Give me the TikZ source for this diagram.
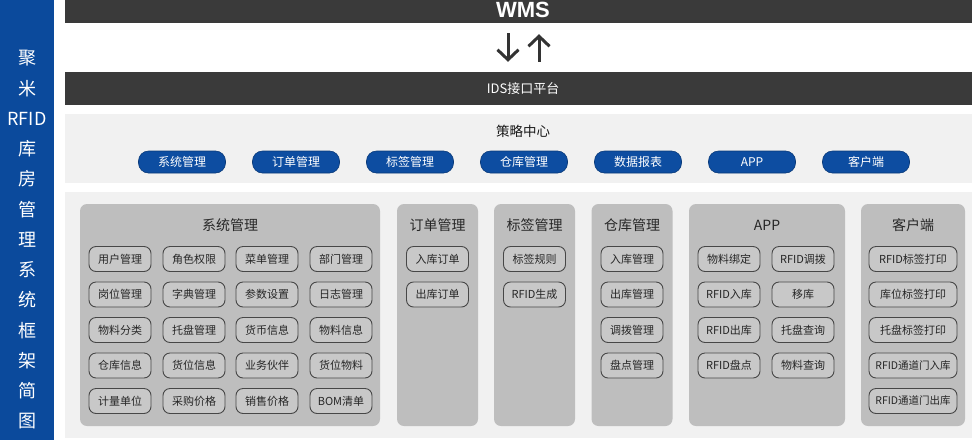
\documentclass[tikz,border=0pt]{standalone}
\usepackage{fontspec}
\setmainfont{Noto Sans CJK SC}
\newfontfamily\wmsfont{Liberation Sans}
\usetikzlibrary{arrows.meta}
\definecolor{sidebl}{HTML}{0B4A9C}
\definecolor{pillbl}{HTML}{0D4DA1}
\definecolor{darkbar}{HTML}{3A3A3A}
\definecolor{lightpanel}{HTML}{F1F1F1}
\definecolor{midpanel}{HTML}{BEBEBE}
\definecolor{itemfill}{HTML}{C8C8C8}
\definecolor{itemline}{HTML}{474747}
\definecolor{arrowc}{HTML}{333333}
\tikzset{
  bar/.style={fill=darkbar, draw=none, inner sep=0pt, minimum width=907pt},
  lpanel/.style={fill=lightpanel, draw=none, inner sep=0pt, minimum width=907pt},
  pill/.style={fill=pillbl, draw=pillbl!75!black, line width=0.6pt, rounded corners=10pt,
    minimum width=87pt, minimum height=22pt, inner sep=0pt, text=white,
    font=\fontsize{12}{12}\selectfont},
  panel/.style={fill=midpanel, draw=none, rounded corners=7pt, inner sep=0pt, minimum height=222pt},
  ptitle/.style={font=\fontsize{14}{14}\selectfont, text=black!85, inner sep=0pt},
  itembox/.style={fill=itemfill, draw=itemline, line width=0.9pt, rounded corners=7pt,
    minimum width=62pt, minimum height=25pt, inner sep=0pt,
    font=\fontsize{11}{11}\selectfont, text=black!85},
  sidech/.style={text=white, inner sep=0pt, font=\fontsize{18}{18}\selectfont},
  bigarrow/.style={draw=arrowc, line width=3pt, -{Straight Barb[length=10pt,width=21pt]}}
}
\begin{document}
\begin{tikzpicture}[x=1pt,y=-1pt]
\useasboundingbox (0,0) rectangle (972,440);
\fill[white] (0,0) rectangle (972,440);

% side bar
\node[fill=sidebl, minimum width=54pt, minimum height=440pt, inner sep=0pt] (side) at (27,220) {};
\foreach \c [count=\i from 0] in {聚,米,RFID,库,房,管,理,系,统,框,架,简,图}
  \node[sidech] (s\i) at (27,{58+30.25*\i}) {\c};

% WMS bar
\node[bar, minimum height=23pt] (wms) at (518.5,11.5) {};
\node[text=white, inner sep=0pt, anchor=base, font=\wmsfont\bfseries\fontsize{22}{22}\selectfont] (wmstxt) at (523,17) {WMS};

% IDS bar
\node[bar, minimum height=33pt] (ids) at (518.5,88.5) {};
\node[text=white, inner sep=0pt, font=\fontsize{13}{13}\selectfont] (idstxt) at (523,89) {IDS接口平台};

% arrows
\coordinate (dnx) at (508,0);
\coordinate (upx) at (539,0);
\draw[bigarrow, shorten <=10pt, shorten >=10pt] (wms.south -| dnx) -- (ids.north -| dnx);
\draw[bigarrow, shorten <=10pt, shorten >=11pt] (ids.north -| upx) -- (wms.south -| upx);

% strategy center
\node[lpanel, minimum height=69pt] (strat) at (518.5,148.5) {};
\node[inner sep=0pt, font=\fontsize{13.5}{13.5}\selectfont, text=black!90] (strattxt) at (523,131) {策略中心};
\node[pill] (b1) at (182,162) {系统管理};
\node[pill] (b2) at (296,162) {订单管理};
\node[pill] (b3) at (410,162) {标签管理};
\node[pill] (b4) at (524,162) {仓库管理};
\node[pill] (b5) at (638,162) {数据报表};
\node[pill] (b6) at (752,162) {APP};
\node[pill] (b7) at (866,162) {客户端};

% lower area
\node[lpanel, minimum height=246pt] (lower) at (518.5,315) {};

% system management
\node[panel, minimum width=300pt] (psys) at (230,315) {};
\node[ptitle] (tsys) at (230,225) {系统管理};
\node[itembox] (i11) at (120,259) {用户管理};
\node[itembox] (i12) at (194,259) {角色权限};
\node[itembox] (i13) at (267,259) {菜单管理};
\node[itembox] (i14) at (341,259) {部门管理};
\node[itembox] (i21) at (120,294.5) {岗位管理};
\node[itembox] (i22) at (194,294.5) {字典管理};
\node[itembox] (i23) at (267,294.5) {参数设置};
\node[itembox] (i24) at (341,294.5) {日志管理};
\node[itembox] (i31) at (120,330) {物料分类};
\node[itembox] (i32) at (194,330) {托盘管理};
\node[itembox] (i33) at (267,330) {货币信息};
\node[itembox] (i34) at (341,330) {物料信息};
\node[itembox] (i41) at (120,365.5) {仓库信息};
\node[itembox] (i42) at (194,365.5) {货位信息};
\node[itembox] (i43) at (267,365.5) {业务伙伴};
\node[itembox] (i44) at (341,365.5) {货位物料};
\node[itembox] (i51) at (120,401) {计量单位};
\node[itembox] (i52) at (194,401) {采购价格};
\node[itembox] (i53) at (267,401) {销售价格};
\node[itembox] (i54) at (341,401) {BOM清单};

% order management
\node[panel, minimum width=81pt] (pord) at (437.5,315) {};
\node[ptitle] (tord) at (437.5,225) {订单管理};
\node[itembox] (o1) at (437.5,259) {入库订单};
\node[itembox] (o2) at (437.5,294.5) {出库订单};

% tag management
\node[panel, minimum width=81pt] (ptag) at (534.5,315) {};
\node[ptitle] (ttag) at (534.5,225) {标签管理};
\node[itembox] (g1) at (534.5,259) {标签规则};
\node[itembox] (g2) at (534.5,294.5) {RFID生成};

% warehouse management
\node[panel, minimum width=81pt] (pwh) at (632,315) {};
\node[ptitle] (twh) at (632,225) {仓库管理};
\node[itembox] (w1) at (632,259) {入库管理};
\node[itembox] (w2) at (632,294.5) {出库管理};
\node[itembox] (w3) at (632,330) {调拨管理};
\node[itembox] (w4) at (632,365.5) {盘点管理};

% APP
\node[panel, minimum width=156pt] (papp) at (767,315) {};
\node[ptitle] (tapp) at (767,225) {APP};
\node[itembox] (a11) at (729,259) {物料绑定};
\node[itembox] (a21) at (729,294.5) {RFID入库};
\node[itembox] (a31) at (729,330) {RFID出库};
\node[itembox] (a41) at (729,365.5) {RFID盘点};
\node[itembox] (a12) at (803,259) {RFID调拨};
\node[itembox] (a22) at (803,294.5) {移库};
\node[itembox] (a32) at (803,330) {托盘查询};
\node[itembox] (a42) at (803,365.5) {物料查询};

% client
\node[panel, minimum width=104pt] (pcli) at (913,315) {};
\node[ptitle] (tcli) at (913,225) {客户端};
\node[itembox, minimum width=88pt] (c1) at (913,259) {RFID标签打印};
\node[itembox, minimum width=88pt] (c2) at (913,294.5) {库位标签打印};
\node[itembox, minimum width=88pt] (c3) at (913,330) {托盘标签打印};
\node[itembox, minimum width=88pt, font=\fontsize{10.5}{10.5}\selectfont] (c4) at (913,365.5) {RFID通道门入库};
\node[itembox, minimum width=88pt, font=\fontsize{10.5}{10.5}\selectfont] (c5) at (913,401) {RFID通道门出库};
\end{tikzpicture}
\end{document}
